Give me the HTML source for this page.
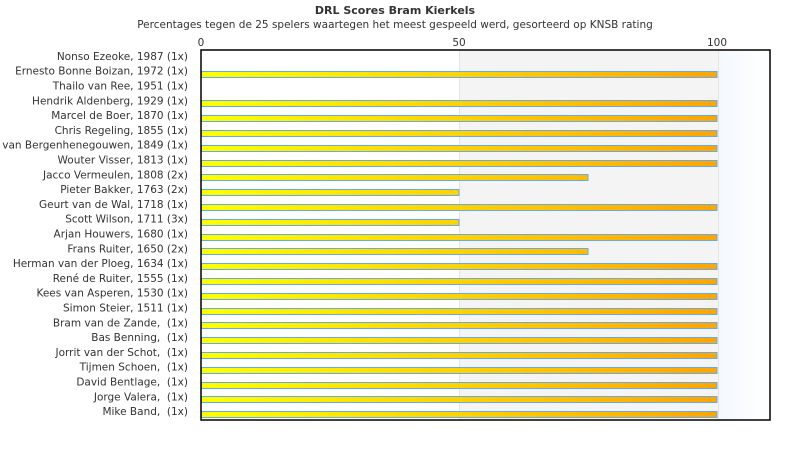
<!DOCTYPE html>
<html><head><meta charset="utf-8"><style>
html,body{margin:0;padding:0;background:#fff;}
svg{display:block;font-family:"DejaVu Sans","Liberation Sans",sans-serif;}
text{white-space:pre;}
</style></head><body>
<svg width="790" height="450" xmlns="http://www.w3.org/2000/svg">
<defs>
<linearGradient id="g" gradientUnits="userSpaceOnUse" x1="201" y1="0" x2="717" y2="0">
<stop offset="0" stop-color="#ffff00"/><stop offset="1" stop-color="#ffa500"/>
</linearGradient>
<linearGradient id="b" x1="0" y1="0" x2="1" y2="0">
<stop offset="0" stop-color="#f4f8fd"/><stop offset="1" stop-color="#ffffff"/>
</linearGradient>
</defs>
<text x="395" y="14" text-anchor="middle" font-size="11" font-weight="bold" fill="#333">DRL Scores Bram Kierkels</text>
<text x="395" y="28" text-anchor="middle" font-size="10.5" fill="#333">Percentages tegen de 25 spelers waartegen het meest gespeeld werd, gesorteerd op KNSB rating</text>
<rect x="201" y="50" width="258" height="370" fill="#fff"/>
<rect x="459" y="50" width="259" height="370" fill="#f4f4f4"/>
<rect x="718" y="50" width="52" height="370" fill="url(#b)"/>
<line x1="459.5" y1="50" x2="459.5" y2="420" stroke="#e4e4e4"/>
<line x1="718.5" y1="50" x2="718.5" y2="420" stroke="#e4e4e4"/>
<text x="201" y="46" text-anchor="middle" font-size="10.5" fill="#333">0</text>
<text x="459" y="46" text-anchor="middle" font-size="10.5" fill="#333">50</text>
<text x="717" y="46" text-anchor="middle" font-size="10.5" fill="#333">100</text>
<g font-size="10.5" fill="#333" text-anchor="end" id="labels"></g>
<g id="bars"></g>
<rect x="201" y="50" width="569" height="370" fill="none" stroke="#000" stroke-width="1.5"/>
<script>
var names=["Nonso Ezeoke, 1987 (1x)","Ernesto Bonne Boizan, 1972 (1x)","Thailo van Ree, 1951 (1x)","Hendrik Aldenberg, 1929 (1x)","Marcel de Boer, 1870 (1x)","Chris Regeling, 1855 (1x)","Rick van Bergenhenegouwen, 1849 (1x)","Wouter Visser, 1813 (1x)","Jacco Vermeulen, 1808 (2x)","Pieter Bakker, 1763 (2x)","Geurt van de Wal, 1718 (1x)","Scott Wilson, 1711 (3x)","Arjan Houwers, 1680 (1x)","Frans Ruiter, 1650 (2x)","Herman van der Ploeg, 1634 (1x)","René de Ruiter, 1555 (1x)","Kees van Asperen, 1530 (1x)","Simon Steier, 1511 (1x)","Bram van de Zande,  (1x)","Bas Benning,  (1x)","Jorrit van der Schot,  (1x)","Tijmen Schoen,  (1x)","David Bentlage,  (1x)","Jorge Valera,  (1x)","Mike Band,  (1x)"];
var vals=[0,100,0,100,100,100,100,100,75,50,100,50,100,75,100,100,100,100,100,100,100,100,100,100,100];
var L=document.getElementById('labels'),B=document.getElementById('bars'),ns="http://www.w3.org/2000/svg";
for(var i=0;i<25;i++){var c=50+14.8*(i+0.5);
var t=document.createElementNS(ns,'text');t.setAttribute('x',188);t.setAttribute('y',c+2.5);t.textContent=names[i];L.appendChild(t);
if(vals[i]>0){var r=document.createElementNS(ns,'rect');r.setAttribute('x',201.5);r.setAttribute('y',Math.round(c-1.5)+0.5);r.setAttribute('width',Math.round(vals[i]*5.16)-0.5);r.setAttribute('height',6);r.setAttribute('fill','url(#g)');r.setAttribute('stroke','#66aaee');r.setAttribute('stroke-width','1');B.appendChild(r);}}
</script>
</svg>
</body></html>
